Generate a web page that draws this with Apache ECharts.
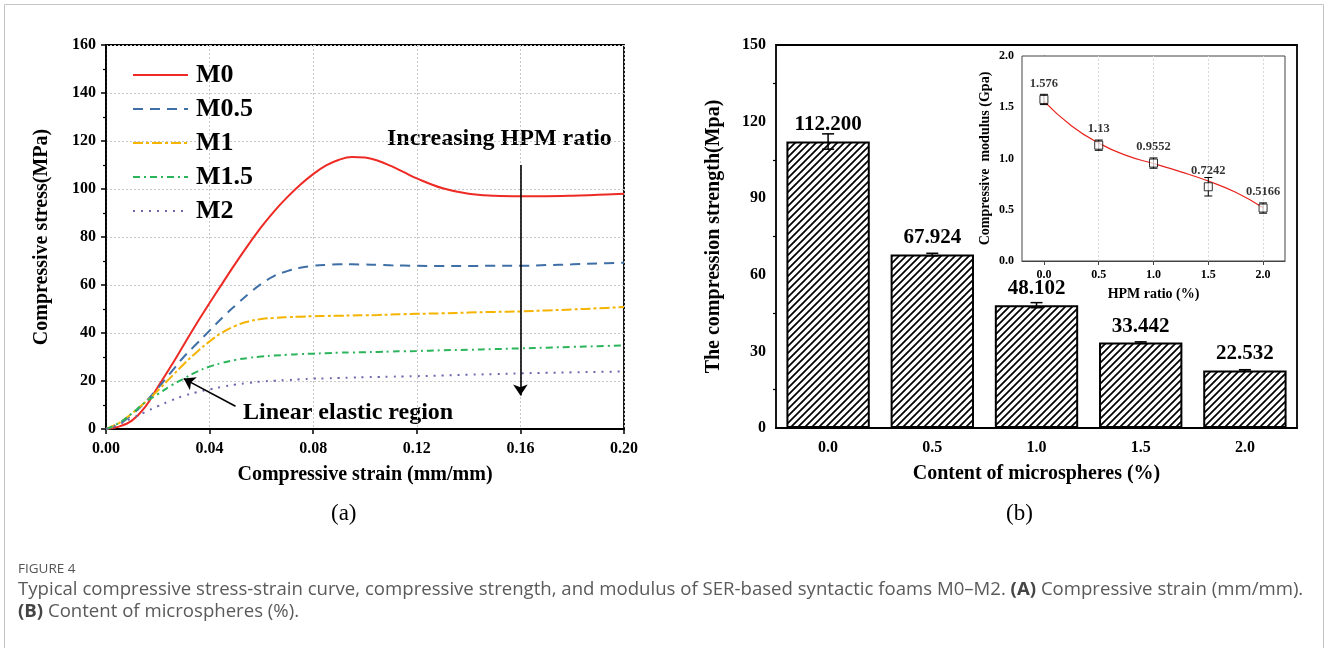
<!DOCTYPE html>
<html>
<head>
<meta charset="utf-8">
<script src="https://cdn.jsdelivr.net/npm/echarts@6/dist/echarts.min.js"></script>
<style>
  html, body { margin: 0; padding: 0; background: #fff; }
  #chart { width: 1328px; height: 648px; }
</style>
</head>
<body>
<div id="chart"></div>
<script>
// (a) stress-strain curves
const strain = [0, 0.005, 0.01, 0.015, 0.02, 0.025, 0.03, 0.035, 0.04, 0.045, 0.05, 0.055, 0.06, 0.065,
  0.07, 0.075, 0.08, 0.085, 0.09, 0.095, 0.1, 0.105, 0.11, 0.115, 0.12, 0.13, 0.14, 0.15, 0.16,
  0.17, 0.18, 0.19, 0.2];
const stressM0 = [0, 1, 3.5, 9, 17.5, 26, 35, 44, 52.5, 60.8, 69, 76.8, 84.2, 90.8,
  96.6, 101.8, 106.2, 109.8, 112.2, 113.3, 113.1, 111.8, 109.6, 107, 104.4, 100.3, 98, 97.2, 97,
  97, 97.2, 97.6, 98];
const stressM05 = [0, 2, 6, 11, 17, 23.5, 30, 35.5, 41, 46.5, 51.5, 56.3, 60.5, 63.8,
  65.8, 67.2, 68, 68.4, 68.6, 68.6, 68.5, 68.4, 68.2, 68.1, 68, 67.9, 67.9, 68, 68,
  68.3, 68.6, 69, 69.3];
const stressM1 = [0, 2.5, 6.5, 11, 16, 21.5, 27, 32, 36.5, 40.3, 43, 44.8, 45.8, 46.3,
  46.6, 46.8, 47, 47.1, 47.2, 47.3, 47.4, 47.5, 47.7, 47.85, 48, 48.2, 48.5, 48.8, 49,
  49.4, 49.8, 50.3, 50.8];
const stressM15 = [0, 2.5, 6.5, 11, 14.5, 18, 21, 23.8, 26, 27.6, 28.8, 29.6, 30.2, 30.6,
  30.9, 31.2, 31.4, 31.6, 31.8, 31.9, 32, 32.1, 32.3, 32.4, 32.5, 32.8, 33, 33.3, 33.6,
  33.9, 34.2, 34.5, 34.8];
const stressM2 = [0, 2, 4.5, 7, 9.5, 11.8, 13.8, 15.3, 16.5, 17.6, 18.5, 19.2, 19.8, 20.1,
  20.4, 20.7, 21, 21.1, 21.3, 21.4, 21.6, 21.7, 21.8, 21.9, 22, 22.3, 22.6, 22.9, 23.2,
  23.4, 23.6, 23.8, 24];

// (b) compression strength
const contents = ['0.0', '0.5', '1.0', '1.5', '2.0'];
const strength = [112.2, 67.924, 48.102, 33.442, 22.532];
const strengthErr = [3, 0.5, 1, 0.3, 0.3];

// (b) inset: modulus
const hpmRatio = [0, 0.5, 1, 1.5, 2];
const modulus = [1.576, 1.13, 0.9552, 0.7242, 0.5166];
const modulusLabels = ['1.576', '1.13', '0.9552', '0.7242', '0.5166'];
const modulusErr = [0.05, 0.05, 0.05, 0.09, 0.05];
const fitX = [0, 0.25, 0.5, 0.75, 1, 1.25, 1.5, 1.75, 2];
const fitY = [1.56, 1.32, 1.15, 1.03, 0.95, 0.87, 0.78, 0.67, 0.52];

const serif = '"Liberation Serif", "Times New Roman", serif';
const sans = '"Open Sans", "Noto Sans", sans-serif';
const pair = (xs, ys) => xs.map((x, i) => [x, ys[i]]);

function hatch() {
  const s = 7;
  const c = document.createElement('canvas');
  c.width = s; c.height = s;
  const g = c.getContext('2d');
  g.fillStyle = '#fff';
  g.fillRect(0, 0, s, s);
  g.strokeStyle = '#000';
  g.lineWidth = 1.7;
  g.beginPath();
  g.moveTo(-1, s + 1); g.lineTo(s + 1, -1);
  g.moveTo(-1, 1); g.lineTo(1, -1);
  g.moveTo(s - 1, s + 1); g.lineTo(s + 1, s - 1);
  g.stroke();
  return c;
}

function errorBars(xi, yi, xs, ys, errs, cap, width) {
  return {
    type: 'custom', xAxisIndex: xi, yAxisIndex: yi, z: 6, silent: true,
    data: xs.map((x, i) => [x, ys[i] - errs[i], ys[i] + errs[i]]),
    renderItem: (params, api) => {
      const lo = api.coord([api.value(0), api.value(1)]);
      const hi = api.coord([api.value(0), api.value(2)]);
      const st = { stroke: '#000', lineWidth: width };
      return {
        type: 'group',
        children: [
          { type: 'line', shape: { x1: lo[0], y1: lo[1], x2: hi[0], y2: hi[1] }, style: st },
          { type: 'line', shape: { x1: hi[0] - cap, y1: hi[1], x2: hi[0] + cap, y2: hi[1] }, style: st },
          { type: 'line', shape: { x1: lo[0] - cap, y1: lo[1], x2: lo[0] + cap, y2: lo[1] }, style: st }
        ]
      };
    }
  };
}

const axisLab = { fontFamily: serif, fontWeight: 'bold', fontSize: 16, color: '#000' };
const axisName = { fontFamily: serif, fontWeight: 'bold', fontSize: 20, color: '#000' };
const blackLine = { lineStyle: { color: '#000', width: 1.8 } };
const dotGrid = { show: true, lineStyle: { color: '#c8c8c8', type: [2, 2], width: 1 } };
const insetGrid = { show: true, lineStyle: { color: '#d8d8d8', type: [2, 2], width: 1 } };

const chart = echarts.init(document.getElementById('chart'));

const option = {
  backgroundColor: '#fff',
  animation: false,
  grid: [
    { left: 106, right: 704, top: 45, bottom: 219, show: true, borderColor: '#000', borderWidth: 1.8 },
    { left: 776, right: 31, top: 45, bottom: 220, show: true, borderColor: '#000', borderWidth: 1.8 },
    { left: 1022, right: 43, top: 56, bottom: 387, show: true, borderColor: '#444', borderWidth: 1, backgroundColor: '#fff', z: 4 }
  ],
  legend: {
    data: ['M0', 'M0.5', 'M1', 'M1.5', 'M2'],
    orient: 'vertical', left: 127, top: 57,
    itemWidth: 55, itemHeight: 14, itemGap: 8,
    itemStyle: { opacity: 0, borderWidth: 0 },
    textStyle: { fontFamily: serif, fontWeight: 'bold', fontSize: 26, color: '#000', padding: [0, 0, 0, 3] }
  },
  xAxis: [
    {
      type: 'value', gridIndex: 0, min: 0, max: 0.2, interval: 0.04,
      name: 'Compressive strain (mm/mm)', nameLocation: 'middle', nameGap: 36, nameTextStyle: axisName,
      axisLine: blackLine, axisTick: { length: 5, lineStyle: { width: 1.5 } },
      axisLabel: Object.assign({ margin: 12, formatter: v => v.toFixed(2) }, axisLab),
      splitLine: dotGrid
    },
    {
      type: 'category', gridIndex: 1, data: contents,
      name: 'Content of microspheres (%)', nameLocation: 'middle', nameGap: 36, nameTextStyle: axisName,
      axisLine: blackLine, axisTick: { length: 5, alignWithLabel: true, lineStyle: { width: 1.5 } },
      axisLabel: Object.assign({ margin: 12 }, axisLab),
      splitLine: { show: false }
    },
    {
      type: 'value', gridIndex: 2, min: -0.2, max: 2.2,
      name: 'HPM ratio (%)', nameLocation: 'middle', nameGap: 26,
      nameTextStyle: { fontFamily: serif, fontWeight: 'bold', fontSize: 14, color: '#000' },
      axisLine: { lineStyle: { color: '#444', width: 1 } },
      axisTick: { length: 4, customValues: hpmRatio, lineStyle: { color: '#444' } },
      axisLabel: { customValues: hpmRatio, formatter: v => v.toFixed(1), fontFamily: serif, fontWeight: 'bold', fontSize: 12, color: '#000', margin: 8 },
      splitLine: { show: false }
    }
  ],
  yAxis: [
    {
      type: 'value', gridIndex: 0, min: 0, max: 160, interval: 20,
      name: 'Compressive stress(MPa)', nameLocation: 'middle', nameGap: 54, nameTextStyle: axisName,
      axisLine: blackLine, axisTick: { length: 5, lineStyle: { width: 1.5 } },
      minorTick: { show: true, splitNumber: 2, length: 3, lineStyle: { color: '#000', width: 1.2 } },
      axisLabel: Object.assign({ margin: 10 }, axisLab),
      splitLine: dotGrid
    },
    {
      type: 'value', gridIndex: 1, min: 0, max: 150, interval: 30,
      name: 'The compression strength(Mpa)', nameLocation: 'middle', nameGap: 52, nameTextStyle: axisName,
      axisLine: blackLine, axisTick: { length: 5, lineStyle: { width: 1.5 } },
      minorTick: { show: true, splitNumber: 2, length: 3, lineStyle: { color: '#000', width: 1.2 } },
      axisLabel: Object.assign({ margin: 10 }, axisLab),
      splitLine: { show: false }
    },
    {
      type: 'value', gridIndex: 2, min: 0, max: 2, interval: 0.5,
      name: 'Compressive  modulus (Gpa)', nameLocation: 'middle', nameGap: 30,
      nameTextStyle: { fontFamily: serif, fontWeight: 'bold', fontSize: 14, color: '#000' },
      axisLine: { lineStyle: { color: '#444', width: 1 } },
      axisTick: { length: 4, lineStyle: { color: '#444' } },
      minorTick: { show: true, splitNumber: 2, length: 2, lineStyle: { color: '#444' } },
      axisLabel: { formatter: v => v.toFixed(1), fontFamily: serif, fontWeight: 'bold', fontSize: 12, color: '#000', margin: 8 },
      splitLine: insetGrid
    }
  ],
  series: [
    { name: 'M0', type: 'line', xAxisIndex: 0, yAxisIndex: 0, smooth: 0.4, symbol: 'none',
      data: pair(strain, stressM0), lineStyle: { color: '#ee2a24', width: 2 }, itemStyle: { color: '#ee2a24' } },
    { name: 'M0.5', type: 'line', xAxisIndex: 0, yAxisIndex: 0, smooth: 0.4, symbol: 'none',
      data: pair(strain, stressM05), lineStyle: { color: '#3e6fa6', width: 2, type: [10, 7] }, itemStyle: { color: '#3e6fa6' } },
    { name: 'M1', type: 'line', xAxisIndex: 0, yAxisIndex: 0, smooth: 0.4, symbol: 'none',
      data: pair(strain, stressM1), lineStyle: { color: '#f5b400', width: 2, type: [10, 3, 3, 3] }, itemStyle: { color: '#f5b400' } },
    { name: 'M1.5', type: 'line', xAxisIndex: 0, yAxisIndex: 0, smooth: 0.4, symbol: 'none',
      data: pair(strain, stressM15), lineStyle: { color: '#2bb55b', width: 2, type: [7, 4, 2, 4] }, itemStyle: { color: '#2bb55b' } },
    { name: 'M2', type: 'line', xAxisIndex: 0, yAxisIndex: 0, smooth: 0.4, symbol: 'none',
      data: pair(strain, stressM2), lineStyle: { color: '#6a68ae', width: 2, type: [2, 6] }, itemStyle: { color: '#6a68ae' } },
    {
      type: 'line', xAxisIndex: 0, yAxisIndex: 0, data: [], silent: true,
      markLine: {
        silent: true, symbol: ['none', 'arrow'], symbolSize: 11,
        lineStyle: { color: '#000', width: 1.6, type: 'solid' }, label: { show: false },
        data: [
          [{ coord: [0.16, 110] }, { coord: [0.16, 14] }],
          [{ coord: [0.05, 9.5] }, { coord: [0.03, 21] }]
        ]
      }
    },
    {
      type: 'bar', xAxisIndex: 1, yAxisIndex: 1, data: strength, barWidth: '80%',
      itemStyle: { color: { image: hatch(), repeat: 'repeat' }, borderColor: '#000', borderWidth: 2 },
      label: { show: true, position: 'top', distance: 6, formatter: p => p.value.toFixed(3),
        fontFamily: serif, fontWeight: 'bold', fontSize: 21, color: '#000' }
    },
    errorBars(1, 1, contents.map((c, i) => i), strength, strengthErr, 6, 1.5),
    {
      type: 'line', xAxisIndex: 2, yAxisIndex: 2, smooth: true, symbol: 'none', z: 5,
      data: pair(fitX, fitY), lineStyle: { color: '#e8231d', width: 1.2 },
      markLine: {
        silent: true, symbol: 'none', label: { show: false },
        lineStyle: { color: '#d8d8d8', type: [2, 2], width: 1 },
        data: hpmRatio.slice(1).map(v => ({ xAxis: v }))
      }
    },
    errorBars(2, 2, hpmRatio, modulus, modulusErr, 4, 1),
    {
      type: 'scatter', xAxisIndex: 2, yAxisIndex: 2, z: 7, symbol: 'rect', symbolSize: 8,
      data: pair(hpmRatio, modulus),
      itemStyle: { color: 'rgba(255,255,255,0.9)', borderColor: '#000', borderWidth: 1 },
      label: { show: true, position: 'top', distance: 5, formatter: p => modulusLabels[p.dataIndex],
        fontFamily: serif, fontWeight: 'bold', fontSize: 12.5, color: '#000' }
    }
  ],
  graphic: [
    { type: 'rect', silent: true, shape: { x: 4.5, y: 4.5, width: 1319, height: 680 },
      style: { fill: 'none', stroke: '#c4c4c4', lineWidth: 1 } },
    { type: 'text', left: 387, top: 127, style: { text: 'Increasing HPM ratio', font: 'bold 24px ' + serif, fill: '#000' } },
    { type: 'text', left: 243, top: 401, style: { text: 'Linear elastic region', font: 'bold 24px ' + serif, fill: '#000' } },
    { type: 'text', left: 331, top: 502, style: { text: '(a)', font: '23px ' + serif, fill: '#000' } },
    { type: 'text', left: 1006, top: 502, style: { text: '(b)', font: '23px ' + serif, fill: '#000' } },
    { type: 'text', left: 18, top: 562, style: { text: 'FIGURE 4', font: '13.5px ' + sans, fill: '#555' } },
    { type: 'text', left: 18, top: 580, style: {
      rich: {
        n: { font: '18.6px ' + sans, fill: '#5a5a5a' },
        b: { font: 'bold 18.6px ' + sans, fill: '#444' }
      },
      text: '{n|Typical compressive stress-strain curve, compressive strength, and modulus of SER-based syntactic foams M0\u2013M2. }{b|(A)}{n| Compressive strain (mm/mm).}'
    } },
    { type: 'text', left: 18, top: 602, style: {
      rich: {
        n: { font: '18.6px ' + sans, fill: '#5a5a5a' },
        b: { font: 'bold 18.6px ' + sans, fill: '#444' }
      },
      text: '{b|(B)}{n| Content of microspheres (%).}'
    } }
  ]
};

chart.setOption(option);
</script>
</body>
</html>
